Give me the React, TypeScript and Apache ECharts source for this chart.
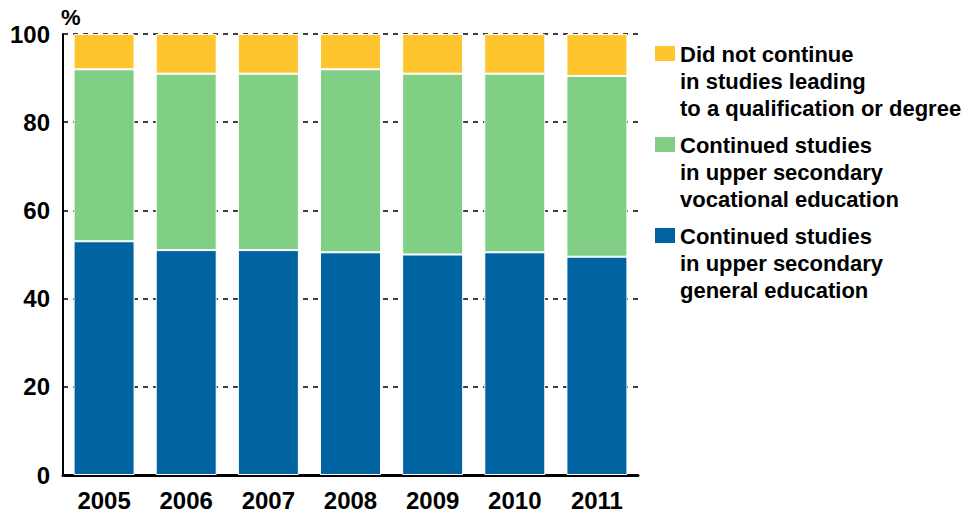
import React, { useEffect, useRef } from "react";
import * as echarts from "echarts";

const years = ["2005", "2006", "2007", "2008", "2009", "2010", "2011"];
const generalEdu = [53, 51, 51, 50.5, 50, 50.5, 49.5];
const vocationalEdu = [39, 40, 40, 41.5, 41, 40.5, 41];
const didNotContinue = [8, 9, 9, 8, 9, 9, 9.5];
const yTicks = [0, 20, 40, 60, 80, 100];

const seriesNames = [
  "Did not continue in studies leading to a qualification or degree",
  "Continued studies in upper secondary vocational education",
  "Continued studies in upper secondary general education",
];
const legendLines = [
  ["Did not continue", "in studies leading", "to a qualification or degree"],
  ["Continued studies", "in upper secondary", "vocational education"],
  ["Continued studies", "in upper secondary", "general education"],
];
const colors = ["#FFC52F", "#80CF85", "#0064A3"];

const FONT = "'Liberation Sans', Arial, sans-serif";

export default function App() {
  const ref = useRef<HTMLDivElement>(null);
  useEffect(() => {
    if (!ref.current) return;
    const chart = echarts.init(ref.current, null, { renderer: "svg" });
    const legendGraphics: any[] = [];
    const legendTop = 44;
    const legendStep = 91;
    legendLines.forEach((lines, i) => {
      legendGraphics.push({
        type: "rect",
        left: 655,
        top: legendTop + i * legendStep + 2,
        shape: { width: 20, height: 15 },
        style: { fill: colors[i] },
      });
      legendGraphics.push({
        type: "text",
        left: 680,
        top: legendTop + i * legendStep - 3,
        style: {
          text: lines.join("\n"),
          font: `bold 22px ${FONT}`,
          lineHeight: 27,
          fill: "#000",
        },
      });
    });

    const dataSets = [didNotContinue, vocationalEdu, generalEdu];
    const series = [2, 1, 0].map((idx) => ({
      name: seriesNames[idx],
      type: "bar",
      stack: "total",
      data: dataSets[idx],
      barWidth: 61,
      itemStyle: { color: colors[idx], borderColor: "#fff", borderWidth: 1 },
    }));

    chart.setOption({
      animation: false,
      textStyle: { fontFamily: FONT },
      grid: { left: 63, right: 331, top: 34, bottom: 39 },
      xAxis: {
        type: "category",
        data: years,
        axisLine: { lineStyle: { color: "#000", width: 3 } },
        axisTick: { show: false },
        axisLabel: {
          color: "#000",
          fontSize: 24,
          fontWeight: "bold",
          fontFamily: FONT,
          margin: 13,
        },
      },
      yAxis: {
        type: "value",
        min: yTicks[0],
        max: yTicks[yTicks.length - 1],
        interval: 20,
        name: "%",
        nameLocation: "end",
        nameGap: 6,
        nameTextStyle: {
          color: "#000",
          fontSize: 22,
          fontWeight: "bold",
          fontFamily: FONT,
          align: "left",
          padding: [0, 0, 0, -2],
        },
        axisLine: { show: true, lineStyle: { color: "#000", width: 2 } },
        axisTick: { show: false },
        axisLabel: {
          color: "#000",
          fontSize: 24,
          fontWeight: "bold",
          fontFamily: FONT,
          margin: 13,
        },
        splitLine: {
          show: true,
          lineStyle: { color: "#000", type: [5, 5], width: 1.5 },
        },
      },
      series,
      graphic: legendGraphics,
    });
    return () => chart.dispose();
  }, []);
  return (
    <div
      ref={ref}
      style={{ position: "fixed", left: 0, top: 0, width: 969, height: 514, background: "#fff" }}
    />
  );
}
